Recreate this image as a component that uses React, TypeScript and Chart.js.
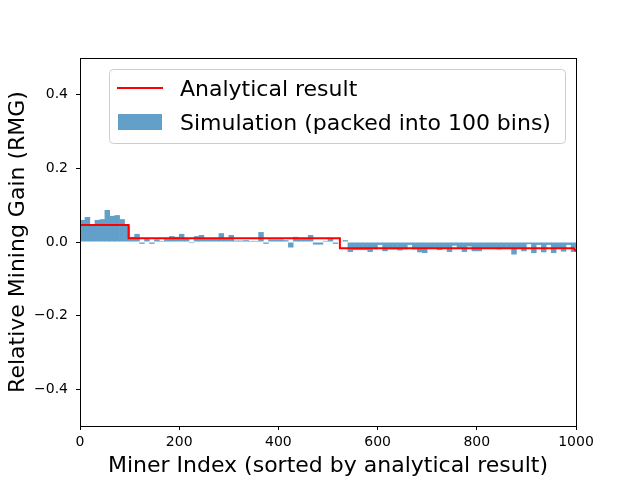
import { useEffect, useRef } from 'react'
import { Chart, registerables } from 'chart.js'

Chart.register(...registerables)

// simulation, packed into 100 bins of 10 miners each (bin centres 5, 15, ... 995)
const binCenters = Array.from({ length: 100 }, (_, i) => i * 10 + 5)
const simValues = [
  0.060, 0.068, 0.045, 0.060, 0.062, 0.087, 0.071, 0.073, 0.062, 0.044,
  0.014, 0.022, -0.005, 0.008, -0.005, 0.007, 0.003, 0.010, 0.016, 0.014,
  0.022, 0.010, -0.003, 0.016, 0.019, 0.010, 0.010, 0.010, 0.024, 0.010,
  0.019, 0.004, 0.004, 0.005, 0.003, 0.003, 0.027, -0.005, 0.007, 0.007,
  0.007, 0.005, -0.015, 0.014, 0.008, 0.008, 0.019, -0.007, -0.007, 0.003,
  0.011, -0.005, 0.001, 0.005, -0.027, -0.022, -0.022, -0.022, -0.027, -0.020,
  -0.008, -0.025, -0.020, -0.020, -0.023, -0.020, -0.008, -0.020, -0.028, -0.030,
  -0.018, -0.016, -0.022, -0.016, -0.027, -0.010, -0.016, -0.027, -0.012, -0.025,
  -0.025, -0.016, -0.016, -0.016, -0.020, -0.016, -0.016, -0.034, -0.016, -0.025,
  -0.006, -0.030, -0.008, -0.028, -0.008, -0.030, -0.016, -0.026, -0.008, -0.027,
]

// analytical result (step curve breakpoints)
const lineX = [0, 98, 98, 524, 524, 995, 1000]
const lineY = [0.046, 0.046, 0.010, 0.010, -0.017, -0.017, -0.025]

const xTicks = [0, 200, 400, 600, 800, 1000]
const yTicks = [-0.4, -0.2, 0.0, 0.2, 0.4]

const FONT = "'DejaVu Sans', sans-serif"
const BAR_COLOR = '#62a0ca' // C0 at alpha 0.7 over white

// frame on all four sides + matplotlib-like legend
const framePlugin = {
  id: 'frame',
  afterDraw(chart: Chart) {
    const { ctx, chartArea: a } = chart
    ctx.save()
    ctx.strokeStyle = '#000'
    ctx.lineWidth = 1
    ctx.strokeRect(Math.round(a.left) + 0.5, Math.round(a.top) + 0.5, a.right - a.left, a.bottom - a.top)

    // legend box
    const bx = 109.5, by = 69.5, bw = 456, bh = 74, r = 4
    ctx.beginPath()
    ctx.moveTo(bx + r, by)
    ctx.arcTo(bx + bw, by, bx + bw, by + bh, r)
    ctx.arcTo(bx + bw, by + bh, bx, by + bh, r)
    ctx.arcTo(bx, by + bh, bx, by, r)
    ctx.arcTo(bx, by, bx + bw, by, r)
    ctx.closePath()
    ctx.fillStyle = 'rgba(255,255,255,0.8)'
    ctx.fill()
    ctx.strokeStyle = '#cccccc'
    ctx.stroke()

    ctx.strokeStyle = 'red'
    ctx.lineWidth = 2
    ctx.beginPath()
    ctx.moveTo(117, 88)
    ctx.lineTo(163, 88)
    ctx.stroke()

    ctx.fillStyle = BAR_COLOR
    ctx.fillRect(118, 114, 44, 16)

    ctx.fillStyle = '#000'
    ctx.font = `22px ${FONT}`
    ctx.textBaseline = 'alphabetic'
    ctx.fillText('Analytical result', 180, 96)
    ctx.fillText('Simulation (packed into 100 bins)', 180, 130)
    ctx.restore()
  },
}

export default function App() {
  const canvasRef = useRef<HTMLCanvasElement>(null)
  const chartRef = useRef<Chart | null>(null)

  useEffect(() => {
    document.body.style.margin = '0'
    if (!canvasRef.current) return
    if (chartRef.current) chartRef.current.destroy()

    chartRef.current = new Chart(canvasRef.current, {
      type: 'bar',
      data: {
        datasets: [
          {
            type: 'line',
            label: 'Analytical result',
            data: lineX.map((x, i) => ({ x, y: lineY[i] })),
            borderColor: 'red',
            borderWidth: 2,
            pointRadius: 0,
            tension: 0,
            fill: false,
            order: 0,
          },
          {
            type: 'bar',
            label: 'Simulation (packed into 100 bins)',
            data: binCenters.map((x, i) => ({ x, y: simValues[i] })),
            backgroundColor: BAR_COLOR,
            borderWidth: 0,
            barPercentage: 1.1,
            categoryPercentage: 1,
            grouped: false,
            order: 1,
          },
        ],
      } as any,
      options: {
        responsive: false,
        animation: false,
        layout: { padding: { left: 0, right: 64, top: 58, bottom: 0 } },
        plugins: { legend: { display: false }, tooltip: { enabled: false } },
        scales: {
          x: {
            type: 'linear',
            min: 0,
            max: 1000,
            offset: false,
            afterFit: (s: any) => { s.height = 54 },
            afterBuildTicks: (s: any) => { s.ticks = xTicks.map((v) => ({ value: v })) },
            grid: { offset: false, drawOnChartArea: false, drawTicks: true, tickLength: 4, color: '#000' },
            border: { display: false },
            ticks: {
              color: '#000',
              padding: 4,
              maxRotation: 0,
              font: { family: FONT, size: 14 },
              callback: (v: any) => String(v),
            },
            title: {
              display: true,
              text: 'Miner Index (sorted by analytical result)',
              color: '#000',
              font: { family: FONT, size: 22 },
              padding: { top: 0, bottom: 1 },
            },
          },
          y: {
            type: 'linear',
            min: -0.5,
            max: 0.5,
            afterFit: (s: any) => { s.width = 80 },
            afterBuildTicks: (s: any) => { s.ticks = yTicks.map((v) => ({ value: v })) },
            grid: { drawOnChartArea: false, drawTicks: true, tickLength: 4, color: '#000' },
            border: { display: false },
            ticks: {
              color: '#000',
              padding: 8,
              font: { family: FONT, size: 14 },
              callback: (v: any) => Number(v).toFixed(1).replace('-', '\u2212'),
            },
            title: {
              display: true,
              text: 'Relative Mining Gain (RMG)',
              color: '#000',
              font: { family: FONT, size: 22 },
              padding: { top: 5, bottom: 0 },
            },
          },
        },
      },
      plugins: [framePlugin],
    })

    return () => {
      if (chartRef.current) {
        chartRef.current.destroy()
        chartRef.current = null
      }
    }
  }, [])

  return (
    <div style={{ width: 640, height: 480 }}>
      <canvas ref={canvasRef} width={640} height={480} />
    </div>
  )
}
